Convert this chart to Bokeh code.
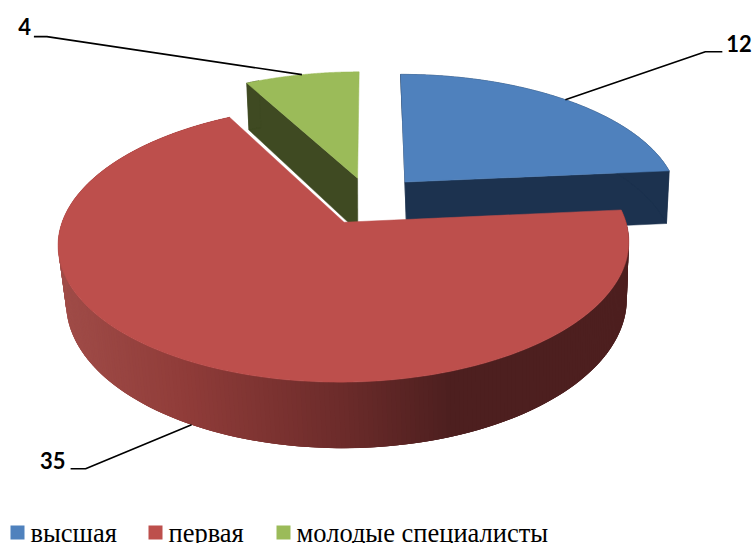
import math
from bokeh.plotting import figure
from bokeh.models import Range1d
from bokeh.core.properties import value
from bokeh.embed import file_html
from bokeh.resources import INLINE

categories = ["высшая", "первая", "молодые специалисты"]
values = [12, 35, 4]
labels = ["12", "35", "4"]

TOP = ["#4f81bd", "#bd4f4c", "#9bbb59"]
WALL = ["#1c324f", None, "#3f4a22"]
STOPS = [(60, (0xa0, 0x4c, 0x48)), (180, (0x90, 0x3c, 0x39)), (340, (0x6b, 0x2b, 0x2a)), (445, (0x4d, 0x1f, 0x1f))]

X0, Y0, A, B, K, E, H0 = 368.5, 200.0, 275.0, 128.7, 0.15, 0.187, 54.5
VX, SC = 514.0, 0.9825
NUDGE = [(2.0, -1.0), (0, 0), (0.8, 0.5)]
BOT_DX = [0, 0, -2.5]
ARC_SHARE = [1.0, 1.0, 0.12]


def top(u, v, i=1):
    d = 1 + K * v
    return X0 + A * u / d + NUDGE[i][0], Y0 - B * v / d + NUDGE[i][1]


def bottom(u, v, i=1):
    x, y = top(u, v, i)
    return VX + (x - VX) * SC + BOT_DX[i], y + H0 / (1 + K * v)


def wall_color(x):
    if x <= STOPS[0][0]:
        c = STOPS[0][1]
    elif x >= STOPS[-1][0]:
        c = STOPS[-1][1]
    else:
        for (a, ca), (b, cb) in zip(STOPS, STOPS[1:]):
            if a <= x <= b:
                t = (x - a) / (b - a)
                c = tuple(round(p + (q - p) * t) for p, q in zip(ca, cb))
                break
    return "#%02x%02x%02x" % tuple(c)


total = sum(values)
slices = []
start = 0.0
for val in values:
    sweep = 2 * math.pi * val / total
    mid = start + sweep / 2
    ou, ov = E * math.sin(mid), E * math.cos(mid)
    slices.append(dict(a=start, b=start + sweep, mid=mid, ou=ou, ov=ov))
    start += sweep

p = figure(width=753, height=543, x_range=Range1d(0, 753), y_range=Range1d(543, 0),
           toolbar_location=None, output_backend="svg", min_border=0,
           outline_line_color=None, background_fill_color="white", border_fill_color="white")
p.axis.visible = False
p.grid.visible = False


def arc(s, n=160):
    return [(s["ou"] + math.sin(s["a"] + (s["b"] - s["a"]) * i / n),
             s["ov"] + math.cos(s["a"] + (s["b"] - s["a"]) * i / n)) for i in range(n + 1)]


def draw_flat(i):
    s = slices[i]
    pts = arc(s)
    c = (s["ou"], s["ov"])
    # green's far cut wall faces away from the viewer; only the near cut and outer corner show
    cuts = [pts[0], pts[-1]] if i == 0 else [pts[0]]
    for e in cuts:
        q = [top(*c, i), top(*e, i), bottom(*e, i), bottom(*c, i)]
        p.patch([a for a, _ in q], [b for _, b in q], fill_color=WALL[i], line_color=WALL[i], line_width=0.5)
    n = int(len(pts) * ARC_SHARE[i])
    part = pts[-n:] if i == 0 else pts[:n]
    up = [top(*e, i) for e in part]
    lo = [bottom(*e, i) for e in reversed(part)]
    p.patch([a for a, _ in up + lo], [b for _, b in up + lo], fill_color=WALL[i], line_color=WALL[i], line_width=0.5)
    t = [top(*c, i)] + [top(*e, i) for e in pts]
    p.patch([a for a, _ in t], [b for _, b in t], fill_color=TOP[i], line_color=TOP[i], line_width=0.5)


draw_flat(0)
draw_flat(2)

# red slice: shaded outer wall built from overlapping bands, then its top
red = slices[1]
pts = arc(red, 300)
qx, qy, qc = [], [], []
for j in range(len(pts) - 1):
    e1, e2 = pts[j], pts[min(j + 3, len(pts) - 1)]
    q = [top(*e1), top(*e2), bottom(*e2), bottom(*e1)]
    qx.append([a for a, _ in q])
    qy.append([b for _, b in q])
    qc.append(wall_color(sum(a for a, _ in q) / 4))
p.patches(qx, qy, fill_color=qc, line_color=None)
t = [top(red["ou"], red["ov"])] + [top(*e) for e in pts]
p.patch([a for a, _ in t], [b for _, b in t], fill_color=TOP[1], line_color=TOP[1], line_width=0.5)

# leader lines and value labels
LEADER = [((140, -48), 17, "left", 4, -8), ((-106, 44), -15, "right", -5, -8), ((-255, -38), -13, "right", -3, -10)]
for i, s in enumerate(slices):
    u, v = s["ou"] + math.sin(s["mid"]), s["ov"] + math.cos(s["mid"])
    x, y = bottom(u, v) if i == 1 else top(u, v, i)
    (dx, dy), tail, al, lx, ly = LEADER[i]
    kx, ky = x + dx, y + dy
    ex = kx + tail
    p.line([x, kx, ex], [y, ky, ky], line_color="black", line_width=1.6)
    p.text([ex + lx], [ky + ly], text=[labels[i]], text_font=value("Lato"),
           text_font_style="bold", text_font_size="22px", text_color="black",
           text_align=al, text_baseline="middle")

# legend
LEG_SQ = [17, 155, 283]
LEG_TX = [30, 168, 296]
for sx, tx, name, col in zip(LEG_SQ, LEG_TX, categories, TOP):
    p.scatter([sx], [532], marker="square", size=14, fill_color=col, line_color=None)
    p.text([tx], [532], text=[name], text_font=value("Liberation Serif"), text_font_size="26.5px",
           text_color="black", text_align="left", text_baseline="middle")

open("out.html", "w").write(file_html(p, INLINE))
